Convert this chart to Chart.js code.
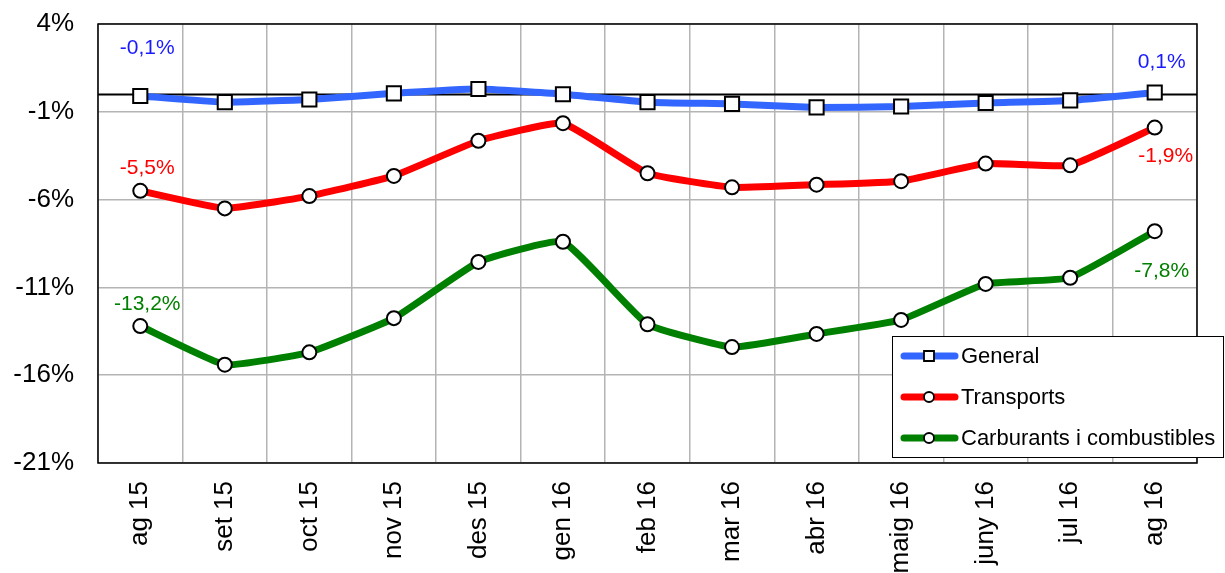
<!DOCTYPE html>
<html>
<head>
<meta charset="utf-8">
<script src="https://cdn.jsdelivr.net/npm/chart.js@4"></script>
<style>
  html, body { margin:0; padding:0; background:#fff; }
  #wrap { width:1225px; height:573px; position:relative; }
</style>
</head>
<body>
<div id="wrap"><canvas id="chart"></canvas></div>
<script>
// dades (variació interanual, %)
const mesos = ['ag 15','set 15','oct 15','nov 15','des 15','gen 16','feb 16','mar 16','abr 16','maig 16','juny 16','jul 16','ag 16'];
const general = [-0.1, -0.45, -0.3, 0.05, 0.3, 0.0, -0.45, -0.55, -0.75, -0.7, -0.5, -0.35, 0.1];
const transports = [-5.5, -6.5, -5.8, -4.65, -2.65, -1.65, -4.5, -5.3, -5.15, -4.95, -3.95, -4.05, -1.9];
const carburants = [-13.2, -15.4, -14.7, -12.75, -9.55, -8.4, -13.1, -14.4, -13.65, -12.85, -10.8, -10.45, -7.8];
const yTicks = [4, -1, -6, -11, -16, -21];

const FONT = '"Liberation Sans", Arial, sans-serif';
const BLUE = '#3366ff', RED = '#ff0000', GREEN = '#008000';

// etiquetes primer / últim punt
const etiquetes = [
  { ds: 0, idx: 0, text: '-0,1%', color: '#1a1aff', dy: -48 },
  { ds: 0, idx: 12, text: '0,1%', color: '#1a1aff', dy: -30 },
  { ds: 1, idx: 0, text: '-5,5%', color: RED, dy: -23 },
  { ds: 1, idx: 12, text: '-1,9%', color: RED, dy: 29, dx: 4 },
  { ds: 2, idx: 0, text: '-13,2%', color: GREEN, dy: -22 },
  { ds: 2, idx: 12, text: '-7,8%', color: GREEN, dy: 40 },
];

const fons = {
  id: 'fons',
  beforeDatasetsDraw(chart) {
    const { ctx, chartArea: a, scales: { y } } = chart;
    ctx.save();
    // línia del zero
    const y0 = Math.round(y.getPixelForValue(0)) + 0.5;
    ctx.strokeStyle = '#000'; ctx.lineWidth = 2;
    ctx.beginPath(); ctx.moveTo(a.left, y0); ctx.lineTo(a.right, y0); ctx.stroke();
    // marc
    ctx.lineWidth = 1.5;
    ctx.strokeRect(a.left, a.top, a.right - a.left, a.bottom - a.top);
    ctx.restore();
  }
};

const textos = {
  id: 'textos',
  afterDatasetsDraw(chart) {
    const { ctx } = chart;
    ctx.save();
    ctx.font = '21px ' + FONT;
    ctx.textAlign = 'center'; ctx.textBaseline = 'middle';
    etiquetes.forEach(e => {
      const p = chart.getDatasetMeta(e.ds).data[e.idx];
      ctx.fillStyle = e.color;
      ctx.fillText(e.text, p.x + 7 + (e.dx || 0), p.y + e.dy);
    });

    // llegenda
    const bx = 892, by = 336, bw = 332, bh = 122;
    ctx.fillStyle = '#fff'; ctx.fillRect(bx, by, bw, bh);
    ctx.strokeStyle = '#000'; ctx.lineWidth = 1;
    ctx.strokeRect(bx + 0.5, by + 0.5, bw - 1, bh - 1);
    ctx.textAlign = 'left';
    ctx.font = '22px ' + FONT;
    chart.data.datasets.forEach((ds, i) => {
      const yy = by + 20 + i * 41;
      ctx.strokeStyle = ds.borderColor; ctx.lineWidth = 7; ctx.lineCap = 'round';
      ctx.beginPath(); ctx.moveTo(904, yy); ctx.lineTo(955, yy); ctx.stroke();
      ctx.lineCap = 'butt';
      ctx.fillStyle = '#fff'; ctx.strokeStyle = '#000'; ctx.lineWidth = 1.8;
      ctx.beginPath();
      if (ds.pointStyle === 'rect') ctx.rect(924, yy - 5, 10, 10);
      else ctx.arc(929, yy, 5, 0, Math.PI * 2);
      ctx.fill(); ctx.stroke();
      ctx.fillStyle = '#000';
      ctx.fillText(ds.label, 961, yy + 1);
    });
    ctx.restore();
  }
};

function serie(label, data, color, style, radius) {
  return {
    label, data,
    borderColor: color, backgroundColor: color,
    borderWidth: 7, tension: 0.12,
    pointStyle: style, pointRadius: radius, pointHoverRadius: radius,
    pointBackgroundColor: '#fff', pointBorderColor: '#000', pointBorderWidth: 2
  };
}

new Chart(document.getElementById('chart'), {
  type: 'line',
  data: {
    labels: mesos,
    datasets: [
      serie('General', general, BLUE, 'rect', 10),
      serie('Transports', transports, RED, 'circle', 7),
      serie('Carburants i combustibles', carburants, GREEN, 'circle', 7),
    ]
  },
  options: {
    responsive: true, maintainAspectRatio: false, animation: false,
    layout: { padding: { top: 24, right: 28, left: 0, bottom: 0 } },
    plugins: { legend: { display: false }, tooltip: { enabled: false } },
    scales: {
      x: {
        offset: true,
        grid: { offset: true, color: '#b4b4b4', lineWidth: 1.5, drawTicks: false },
        border: { display: false },
        ticks: { color: '#000', font: { family: FONT, size: 26 }, minRotation: 90, maxRotation: 90, padding: 18, autoSkip: false },
        afterFit(s) { s.height = 110; s.paddingLeft = 0; s.paddingRight = 0; }
      },
      y: {
        min: -21, max: 4,
        afterBuildTicks(s) { s.ticks = yTicks.map(v => ({ value: v })); },
        grid: { color: '#b4b4b4', lineWidth: 1.5, drawTicks: false },
        border: { display: false },
        ticks: { color: '#000', font: { family: FONT, size: 26 }, padding: 24, callback: v => v + '%' },
        afterFit(s) { s.width = 98; s.paddingTop = 0; s.paddingBottom = 0; }
      }
    }
  },
  plugins: [fons, textos]
});
</script>
</body>
</html>
